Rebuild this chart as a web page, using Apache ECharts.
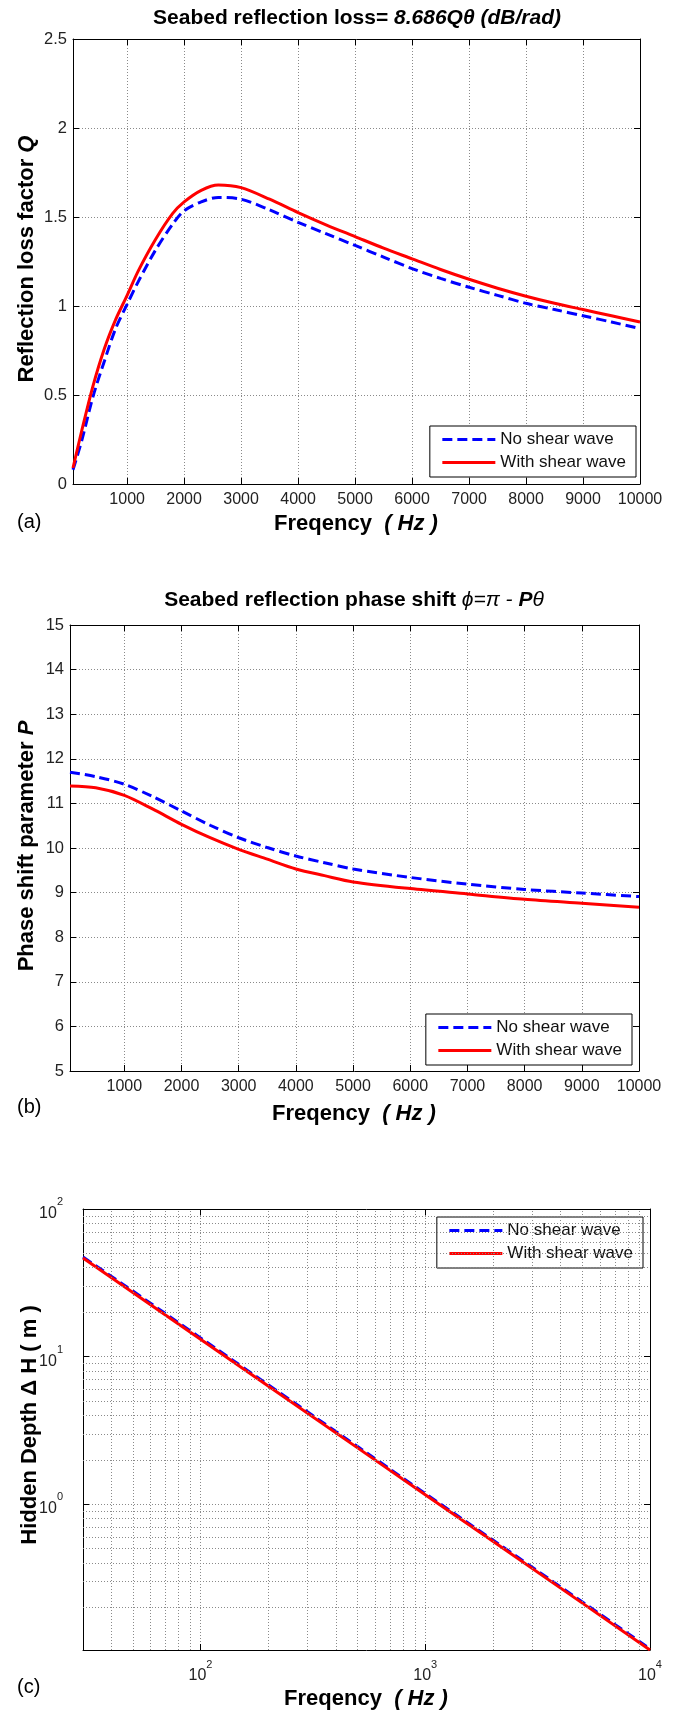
<!DOCTYPE html>
<html><head><meta charset="utf-8">
<script src="https://cdn.jsdelivr.net/npm/echarts@6/dist/echarts.min.js"></script>
<style>html,body{margin:0;padding:0;background:#fff}#chart{width:678px;height:1713px}</style>
</head><body><div id="chart"></div>
<script>
// ---------- data ----------
const seriesNames = ['No shear wave', 'With shear wave'];

// (a) reflection loss factor Q vs frequency
const freqA = [50, 200, 400, 600, 800, 1000, 1200, 1500, 1800, 2000, 2300, 2600, 3000, 3500, 4000, 4500, 5000, 5500, 6000, 6500, 7000, 7500, 8000, 8500, 9000, 9500, 10000];
const qNoShear = [0.08, 0.24, 0.49, 0.69, 0.875, 1.01, 1.14, 1.315, 1.46, 1.535, 1.585, 1.61, 1.6, 1.54, 1.47, 1.405, 1.34, 1.275, 1.21, 1.155, 1.105, 1.06, 1.015, 0.98, 0.945, 0.91, 0.873];
const qWithShear = [0.09, 0.295, 0.55, 0.76, 0.925, 1.06, 1.2, 1.375, 1.52, 1.585, 1.65, 1.68, 1.665, 1.6, 1.525, 1.455, 1.39, 1.325, 1.265, 1.205, 1.15, 1.1, 1.055, 1.015, 0.98, 0.945, 0.91];

// (b) phase shift parameter P vs frequency
const freqB = [50, 500, 1000, 1500, 2000, 2500, 3000, 3500, 4000, 4500, 5000, 6000, 7000, 8000, 9000, 10000];
const pNoShear = [11.70, 11.60, 11.43, 11.15, 10.83, 10.51, 10.23, 10.01, 9.82, 9.67, 9.53, 9.34, 9.19, 9.07, 8.99, 8.91];
const pWithShear = [11.39, 11.35, 11.18, 10.87, 10.53, 10.23, 9.97, 9.75, 9.53, 9.38, 9.24, 9.09, 8.97, 8.85, 8.76, 8.67];

// (c) hidden depth vs frequency (log-log)
const freqC = [30, 50, 100, 200, 500, 1000, 2000, 5000, 10000];
const hNoShear = [47.3, 27.8, 13.4, 6.45, 2.46, 1.18, 0.572, 0.218, 0.105];
const hWithShear = [46.5, 27.2, 13.1, 6.32, 2.41, 1.16, 0.561, 0.214, 0.103];

// tick labels for the linear frequency axes
const linearXTicks = [1000, 2000, 3000, 4000, 5000, 6000, 7000, 8000, 9000, 10000];

// ---------- styling ----------
const F = '"Liberation Sans", Arial, Helvetica, sans-serif';
const BLUE = '#0000ff', RED = '#ff0000';
const gridLine = {color: '#8a8a8a', width: 1, type: [1, 2]};
const pairs = (xs, ys) => xs.map((x, i) => [x, ys[i]]);

function xLinear(gi, bottom) {
  return {
    type: 'value', gridIndex: gi, min: 50, max: 10000, position: bottom ? 'bottom' : 'top',
    axisLine: {show: true, onZero: false, lineStyle: {color: '#000', width: 1}},
    axisTick: {show: true, inside: true, length: 6, lineStyle: {color: '#000'}, customValues: linearXTicks},
    axisLabel: {show: bottom, customValues: linearXTicks, margin: 8, fontFamily: F, fontSize: 16, color: '#222', formatter: v => String(v)},
    splitLine: {show: bottom, lineStyle: gridLine}
  };
}
function yLinear(gi, left, min, max, interval) {
  return {
    type: 'value', gridIndex: gi, min, max, interval, position: left ? 'left' : 'right',
    axisLine: {show: true, onZero: false, lineStyle: {color: '#000', width: 1}},
    axisTick: {show: true, inside: true, length: 6, lineStyle: {color: '#000'}},
    axisLabel: {show: left, margin: 6, fontFamily: F, fontSize: 16.5, color: '#222', formatter: v => String(v)},
    splitLine: {show: left, lineStyle: gridLine}
  };
}
const supRich = {
  b: {fontFamily: F, fontSize: 16, color: '#222', lineHeight: 25, verticalAlign: 'bottom'},
  s: {fontFamily: F, fontSize: 11, color: '#222', lineHeight: 25, verticalAlign: 'top'}
};
function powLabel(v) {
  const e = Math.log10(v), r = Math.round(e);
  if (Math.abs(e - r) > 1e-6) return '';
  return '{b|10}{s|' + r + '}';
}
function logAxis(gi, pos, min, max, isX, main) {
  return {
    type: 'log', logBase: 10, gridIndex: gi, min, max, position: pos,
    axisLine: {show: true, onZero: false, lineStyle: {color: '#000', width: 1}},
    axisTick: {show: true, inside: true, length: 6, lineStyle: {color: '#000'}},
    axisLabel: {show: main, margin: isX ? 9 : 20, formatter: powLabel, rich: supRich},
    splitLine: {show: main, lineStyle: gridLine}
  };
}
function line(name, data, gi, dashed, smooth) {
  const c = dashed ? BLUE : RED;
  return {
    type: 'line', name, data, xAxisIndex: gi, yAxisIndex: gi, symbol: 'none', showSymbol: false,
    smooth: smooth ? 0.3 : false, z: dashed ? 3 : 4, silent: true,
    lineStyle: {color: c, width: 3, type: dashed ? [10, 5] : 'solid'}, itemStyle: {color: c}
  };
}
function legend(top, right) {
  return {
    orient: 'vertical', top, right, padding: [5, 10, 6, 11], itemGap: 6, itemWidth: 53, itemHeight: 14,
    backgroundColor: '#fff', borderColor: '#000', borderWidth: 1, borderRadius: 0, selectedMode: false,
    textStyle: {fontFamily: F, fontSize: 17, color: '#111'},
    itemStyle: {opacity: 0},
    data: [
      {name: seriesNames[0], lineStyle: {color: BLUE, width: 3, type: [10, 5]}},
      {name: seriesNames[1], lineStyle: {color: RED, width: 3, type: 'solid'}}
    ]
  };
}
// minor log grid positions (2..9 within each decade)
function minorVals(lo, hi) {
  const out = [];
  for (let d = Math.floor(Math.log10(lo)); d <= Math.ceil(Math.log10(hi)); d++) {
    for (let k = 2; k <= 9; k++) { const v = k * Math.pow(10, d); if (v > lo && v < hi) out.push(v); }
  }
  return out;
}

const tRich = {
  b: {fontFamily: F, fontSize: 21, fontWeight: 'bold', fill: '#000'},
  bi: {fontFamily: F, fontSize: 21, fontWeight: 'bold', fontStyle: 'italic', fill: '#000'},
  i: {fontFamily: F, fontSize: 21, fontStyle: 'italic', fill: '#000'}
};
const aRich = {
  b: {fontFamily: F, fontSize: 22, fontWeight: 'bold', fill: '#000'},
  bi: {fontFamily: F, fontSize: 22, fontWeight: 'bold', fontStyle: 'italic', fill: '#000'}
};
const xRich = {
  b: {fontFamily: F, fontSize: 22, fontWeight: 'bold', fill: '#000'},
  bi: {fontFamily: F, fontSize: 22, fontWeight: 'bold', fontStyle: 'italic', fill: '#000'}
};
function txt(x, y, text, rich, opts) {
  return Object.assign({type: 'text', x, y, silent: true, style: Object.assign({text, rich, align: 'center', verticalAlign: 'middle', fill: '#000', fontFamily: F, fontSize: 18}, (opts && opts.style) || {})}, (opts && opts.el) || {});
}

const grids = [
  {left: 73, top: 39, width: 567, height: 445},
  {left: 70, top: 625, width: 569, height: 446},
  {left: 83, top: 1209, width: 567, height: 441}
];
grids.forEach(g => { g.outerBoundsMode = 'none'; g.containLabel = false; });

const minorX = minorVals(30, 10000), minorY = minorVals(0.103, 100);

const option = {
  animation: false,
  backgroundColor: '#fff',
  grid: grids,
  xAxis: [xLinear(0, true), xLinear(1, true), logAxis(2, 'bottom', 30, 10000, true, true),
          xLinear(0, false), xLinear(1, false), logAxis(2, 'top', 30, 10000, true, false)],
  yAxis: [yLinear(0, true, 0, 2.5, 0.5), yLinear(1, true, 5, 15, 1), logAxis(2, 'left', 0.103, 100, false, true),
          yLinear(0, false, 0, 2.5, 0.5), yLinear(1, false, 5, 15, 1), logAxis(2, 'right', 0.103, 100, false, false)],
  legend: [legend(426, 42), legend(1014, 46), legend(1217, 35)],
  series: [
    line(seriesNames[0], pairs(freqA, qNoShear), 0, true, true),
    line(seriesNames[1], pairs(freqA, qWithShear), 0, false, true),
    line(seriesNames[0], pairs(freqB, pNoShear), 1, true, true),
    line(seriesNames[1], pairs(freqB, pWithShear), 1, false, true),
    {
      type: 'line', name: 'grid', xAxisIndex: 2, yAxisIndex: 2, data: [[30, 1]], symbol: 'none', showSymbol: false,
      lineStyle: {width: 0}, z: 1, silent: true,
      markLine: {
        silent: true, symbol: 'none', label: {show: false}, animation: false,
        lineStyle: {color: '#8a8a8a', width: 1, type: [1, 2]},
        emphasis: {disabled: true},
        data: minorX.map(v => ({xAxis: v})).concat(minorY.map(v => ({yAxis: v})))
      }
    },
    line(seriesNames[0], pairs(freqC, hNoShear), 2, true, false),
    line(seriesNames[1], pairs(freqC, hWithShear), 2, false, false)
  ],
  graphic: [
    txt(357, 18, '{b|Seabed reflection loss= }{bi|8.686Q\u03b8 (dB/rad)}', tRich),
    txt(354, 600, '{b|Seabed reflection phase shift }{i|\u03d5=\u03c0 - }{bi|P}{i|\u03b8}', tRich),
    txt(27, 259, '{b|Reflection loss factor }{bi|Q}', aRich, {el: {rotation: Math.PI / 2}}),
    txt(27, 846, '{b|Phase shift parameter }{bi|P}', aRich, {el: {rotation: Math.PI / 2}}),
    txt(30, 1425, '{b|Hidden Depth \u0394 H ( m )}', aRich, {el: {rotation: Math.PI / 2}}),
    txt(356, 524, '{b|Freqency  }{bi|( Hz )}', xRich),
    txt(354, 1114, '{b|Freqency  }{bi|( Hz )}', xRich),
    txt(366, 1699, '{b|Freqency  }{bi|( Hz )}', xRich),
    txt(17, 522, '(a)', null, {style: {align: 'left', fontSize: 20}}),
    txt(17, 1107, '(b)', null, {style: {align: 'left', fontSize: 20}}),
    txt(17, 1687, '(c)', null, {style: {align: 'left', fontSize: 20}})
  ]
};

const chart = echarts.init(document.getElementById('chart'), null, {renderer: 'canvas', width: 678, height: 1713});
chart.setOption(option);
</script>
</body></html>
